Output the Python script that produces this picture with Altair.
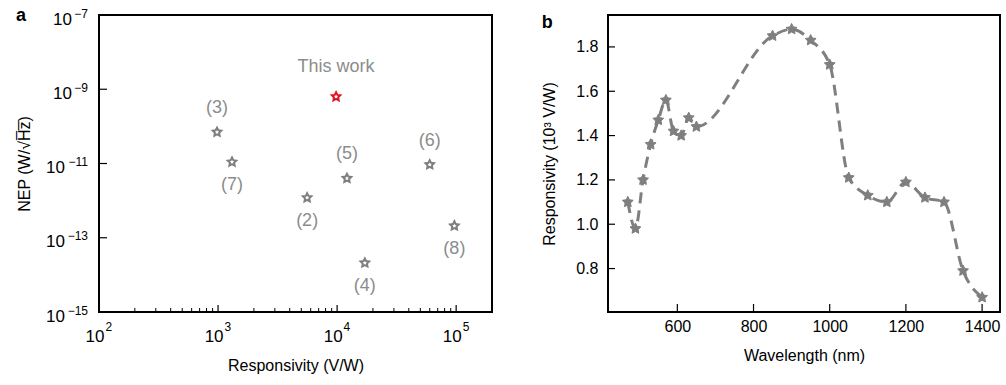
import altair as alt
import pandas as pd

FONT = "Liberation Sans"
GRAY = "#7f7f7f"
LGRAY = "#8c8c8c"
RED = "#e3141c"
# chunky 5-pointed star marker shape (unit square, -1..1)
STAR = ("M0,-1L0.2939,-0.4045L0.9511,-0.309L0.4755,0.1545L0.5878,0.809L0,0.5"
        "L-0.5878,0.809L-0.4755,0.1545L-0.9511,-0.309L-0.2939,-0.4045Z")

# ---------------- Panel a data ----------------
refs = ["This work", "(3)", "(7)", "(2)", "(5)", "(4)", "(6)", "(8)"]
resp_vw = [9800, 980, 1310, 5600, 12100, 17100, 60000, 96600]
nep = [6.3e-10, 7e-11, 1.1e-11, 1.2e-12, 4e-12, 2.1e-14, 9.3e-12, 2.1e-13]
kind = ["this", "ref", "ref", "ref", "ref", "ref", "ref", "ref"]
labels_above = ["(3)", "(5)", "(6)"]
labels_below = ["(7)", "(2)", "(4)", "(8)"]

a_x_ticks = [1e2, 1e3, 1e4, 1e5]
a_x_minor = [200, 300, 400, 500, 600, 700, 800, 900,
             2000, 3000, 4000, 5000, 6000, 7000, 8000, 9000,
             20000, 30000, 40000, 50000, 60000, 70000, 80000, 90000]
a_y_ticks = [1e-15, 1e-13, 1e-11, 1e-9, 1e-7]

# ---------------- Panel b data ----------------
wavelength = [470, 490, 510, 530, 550, 570, 590, 610, 630, 650,
              850, 900, 950, 1000, 1050, 1100, 1150, 1200, 1250, 1300, 1350, 1400]
responsivity = [1.10, 0.98, 1.20, 1.36, 1.47, 1.56, 1.42, 1.40, 1.48, 1.44,
                1.85, 1.88, 1.83, 1.72, 1.21, 1.13, 1.10, 1.19, 1.12, 1.10, 0.79, 0.67]
b_x_ticks = [600, 800, 1000, 1200, 1400]
b_y_ticks = [0.8, 1.0, 1.2, 1.4, 1.6, 1.8]

W, H = 393, 297
TICK = 7
MINOR = 4

dfa = pd.DataFrame({"ref": refs, "resp": resp_vw, "nep": nep, "kind": kind})
dfb = pd.DataFrame({"wl": wavelength, "r": responsivity})

xa_scale = alt.Scale(type="log", domain=[100, 200000], nice=False)
ya_scale = alt.Scale(type="log", domain=[1e-15, 1e-7], nice=False)

xa_axis = alt.Axis(title="Responsivity (V/W)", labels=False, ticks=False, domain=False, grid=False,
                   minExtent=0, maxExtent=0, titlePadding=45)
ya_axis = alt.Axis(title="NEP (W/\u221aH\u0305z\u0305)", labels=False, ticks=False, domain=False, grid=False,
                   minExtent=0, maxExtent=0, titlePadding=67)

base_a = alt.Chart(dfa)
pts_a = base_a.mark_point(shape=STAR, filled=False, fill="white", strokeWidth=2.0, size=80, opacity=1).encode(
    x=alt.X("resp:Q", scale=xa_scale, axis=xa_axis),
    y=alt.Y("nep:Q", scale=ya_scale, axis=ya_axis),
    color=alt.Color("kind:N", scale=alt.Scale(domain=["ref", "this"], range=[GRAY, RED]), legend=None),
)
txt_kw = dict(font=FONT, fontSize=18, color=LGRAY, align="center", baseline="middle")
this_txt = base_a.transform_filter(alt.datum.ref == "This work").mark_text(dy=-30, **txt_kw).encode(
    x=alt.X("resp:Q", scale=xa_scale), y=alt.Y("nep:Q", scale=ya_scale), text="ref:N")
above_txt = base_a.transform_filter(alt.FieldOneOfPredicate(field="ref", oneOf=labels_above)).mark_text(
    dy=-24, **txt_kw).encode(x=alt.X("resp:Q", scale=xa_scale), y=alt.Y("nep:Q", scale=ya_scale), text="ref:N")
below_txt = base_a.transform_filter(alt.FieldOneOfPredicate(field="ref", oneOf=labels_below)).mark_text(
    dy=23, **txt_kw).encode(x=alt.X("resp:Q", scale=xa_scale), y=alt.Y("nep:Q", scale=ya_scale), text="ref:N")

# inward ticks
xa_major = alt.Chart(pd.DataFrame({"v": a_x_ticks})).mark_rule(color="black", strokeWidth=1.2).encode(
    x=alt.X("v:Q", scale=xa_scale), y=alt.value(H), y2=alt.value(H - TICK))
xa_min = alt.Chart(pd.DataFrame({"v": a_x_minor})).mark_rule(color="black", strokeWidth=1.0).encode(
    x=alt.X("v:Q", scale=xa_scale), y=alt.value(H), y2=alt.value(H - MINOR))
ya_major = alt.Chart(pd.DataFrame({"v": a_y_ticks})).mark_rule(color="black", strokeWidth=1.2).encode(
    y=alt.Y("v:Q", scale=ya_scale), x=alt.value(0), x2=alt.value(TICK + 1))

# power-of-ten tick labels: "10" plus a raised exponent
lab_kw = dict(font=FONT, color="black", baseline="alphabetic")
xlab = alt.Chart(pd.DataFrame({"v": a_x_ticks})).transform_calculate(
    e="format(round(log(datum.v)/LN10), 'd')")
xlab_base = xlab.mark_text(text="10", align="right", dx=5.5, fontSize=17, **lab_kw).encode(
    x=alt.X("v:Q", scale=xa_scale), y=alt.value(H + 30))
xlab_exp = xlab.mark_text(align="left", dx=6.5, fontSize=12, **lab_kw).encode(
    x=alt.X("v:Q", scale=xa_scale), y=alt.value(H + 19), text="e:N")

ylab = alt.Chart(pd.DataFrame({"v": a_y_ticks})).transform_calculate(
    n="round(log(datum.v)/LN10)", e="format(round(log(datum.v)/LN10), 'd')")
ylab_base2 = ylab.transform_filter("datum.n >= -9").mark_text(
    text="10", align="right", dy=9.5, fontSize=17, **lab_kw).encode(
    y=alt.Y("v:Q", scale=ya_scale), x=alt.value(-27))
ylab_base3 = ylab.transform_filter("datum.n < -9").mark_text(
    text="10", align="right", dy=9.5, fontSize=17, **lab_kw).encode(
    y=alt.Y("v:Q", scale=ya_scale), x=alt.value(-34))
ylab_exp = ylab.mark_text(align="right", dy=2.5, fontSize=12, **lab_kw).encode(
    y=alt.Y("v:Q", scale=ya_scale), x=alt.value(-11), text="e:N")

panel_a = alt.layer(pts_a, this_txt, above_txt, below_txt, xa_min, xa_major, ya_major,
                    xlab_base, xlab_exp, ylab_base2, ylab_base3, ylab_exp).properties(
    width=W, height=H,
    title=alt.TitleParams("a", anchor="start", frame="bounds", fontSize=18, fontWeight="bold",
                          font=FONT, offset=0, dy=31, baseline="alphabetic", color="black"),
)

# ---------------- Panel b ----------------
xb_scale = alt.Scale(domain=[418, 1447], nice=False, zero=False)
yb_scale = alt.Scale(domain=[0.604, 1.944], nice=False, zero=False)
xb_axis = alt.Axis(values=b_x_ticks, format="d", title="Wavelength (nm)", ticks=False, domain=False,
                   grid=False, labelPadding=6, titlePadding=13)
yb_axis = alt.Axis(values=b_y_ticks, format=".1f", title="Responsivity (10\u00b3 V/W)", ticks=False,
                   domain=False, grid=False, labelPadding=10, titlePadding=18)

base_b = alt.Chart(dfb)
line_b = base_b.mark_line(color=GRAY, strokeWidth=3, strokeDash=[11, 7], interpolate="monotone").encode(
    x=alt.X("wl:Q", scale=xb_scale, axis=xb_axis),
    y=alt.Y("r:Q", scale=yb_scale, axis=yb_axis),
)
pts_b = base_b.mark_point(shape=STAR, filled=True, size=130, color=GRAY, stroke=GRAY, strokeWidth=1,
                          opacity=1).encode(
    x=alt.X("wl:Q", scale=xb_scale), y=alt.Y("r:Q", scale=yb_scale))

xb_major = alt.Chart(pd.DataFrame({"v": b_x_ticks})).mark_rule(color="black", strokeWidth=1.2).encode(
    x=alt.X("v:Q", scale=xb_scale), y=alt.value(H), y2=alt.value(H - TICK - 1))
yb_major = alt.Chart(pd.DataFrame({"v": b_y_ticks})).mark_rule(color="black", strokeWidth=1.2).encode(
    y=alt.Y("v:Q", scale=yb_scale), x=alt.value(0), x2=alt.value(TICK))

panel_b = alt.layer(line_b, pts_b, xb_major, yb_major).properties(
    width=392, height=H,
    title=alt.TitleParams("b", anchor="start", frame="bounds", fontSize=18, fontWeight="bold",
                          font=FONT, offset=0, dy=31, baseline="alphabetic", color="black"),
)

chart = alt.hconcat(panel_a, panel_b, spacing=47).properties(
    padding={"left": 15, "top": 5, "right": 5, "bottom": 5},
    background="white",
).configure_view(stroke="black", strokeWidth=2).configure_axis(
    labelFont=FONT, titleFont=FONT, labelFontSize=16, titleFontSize=16, labelColor="black",
    titleColor="black", titleFontWeight="normal",
)

chart.save("out.html", embed_options={"renderer": "svg", "actions": False})
